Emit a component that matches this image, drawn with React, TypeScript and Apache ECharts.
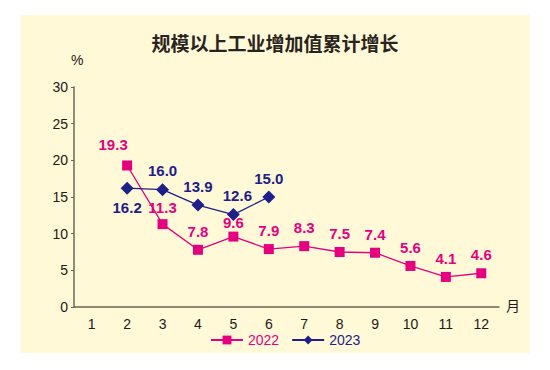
import React, { useEffect, useRef } from "react";
import * as echarts from "echarts";

const months = ["1", "2", "3", "4", "5", "6", "7", "8", "9", "10", "11", "12"];
const values2022: (number | null)[] = [null, 19.3, 11.3, 7.8, 9.6, 7.9, 8.3, 7.5, 7.4, 5.6, 4.1, 4.6];
const values2023: (number | null)[] = [null, 16.2, 16.0, 13.9, 12.6, 15.0, null, null, null, null, null, null];
const title = "规模以上工业增加值累计增长";

const C22 = "#E4007F";
const C23 = "#1D2088";
const AX = "#6B6656";

export default function App() {
  const ref = useRef<HTMLDivElement>(null);
  useEffect(() => {
    if (!ref.current) return;
    const chart = echarts.init(ref.current, null, { renderer: "svg" });
    const labelFont = { fontFamily: "Liberation Sans, Arial, sans-serif", fontWeight: "bold" as const, fontSize: 15 };
    chart.setOption({
      animation: false,
      backgroundColor: "#ffffff",
      graphic: [
        { type: "rect", z: -10, shape: { x: 21, y: 15, width: 509, height: 338 }, style: { fill: "#FFF9D8" } },
        { type: "text", left: "center", top: 33, style: { text: title, font: "bold 19px 'Noto Sans CJK SC'", fill: "#2a2420" } },
        { type: "text", x: 71, y: 53, style: { text: "%", font: "14px 'Liberation Sans', Arial", fill: "#231815" } },
        { type: "text", x: 506, y: 298, style: { text: "月", font: "14px 'Noto Sans CJK SC'", fill: "#231815" } },
      ],
      grid: { left: 74, right: 51, top: 87, bottom: 63 },
      legend: {
        top: 328,
        left: 205,
        itemWidth: 32,
        itemHeight: 11,
        itemGap: 12,
        textStyle: { fontFamily: "Liberation Sans, Arial", fontSize: 14 },
        data: [
          { name: "2022", textStyle: { color: C22 } },
          { name: "2023", textStyle: { color: C23 } },
        ],
      },
      xAxis: {
        type: "category",
        data: months,
        boundaryGap: true,
        axisLine: { lineStyle: { color: AX, width: 1.5 } },
        axisTick: { inside: true, length: 3, lineStyle: { color: AX } },
        axisLabel: { color: "#231815", fontFamily: "Liberation Sans, Arial", fontSize: 14, margin: 10 },
      },
      yAxis: {
        type: "value",
        min: 0,
        max: 30,
        interval: 5,
        splitLine: { show: false },
        axisLine: { show: true, lineStyle: { color: AX, width: 1.5 } },
        axisTick: { show: true, length: 3, lineStyle: { color: AX } },
        axisLabel: { color: "#231815", fontFamily: "Liberation Sans, Arial", fontSize: 14, margin: 6 },
      },
      series: [
        {
          name: "2022",
          type: "line",
          data: values2022,
          symbol: "rect",
          symbolSize: 10,
          itemStyle: { color: C22 },
          lineStyle: { color: C22, width: 1.3 },
          label: {
            show: true,
            position: "top",
            distance: 6,
            color: C22,
            ...labelFont,
            formatter: (p: any) => Number(p.value).toFixed(1),
          },
          labelLayout: (p: any) =>
            p.dataIndex === 1 ? { dx: -14, dy: -2 } : p.dataIndex === 4 ? { dy: 4 } : p.dataIndex === 2 ? { dy: 2 } : {},
        },
        {
          name: "2023",
          type: "line",
          data: values2023,
          symbol: "diamond",
          symbolSize: 13,
          itemStyle: { color: C23 },
          lineStyle: { color: C23, width: 1.3 },
          label: {
            show: true,
            position: "top",
            distance: 5,
            color: C23,
            ...labelFont,
            formatter: (p: any) => Number(p.value).toFixed(1),
          },
          labelLayout: (p: any) => (p.dataIndex === 1 ? { dy: 38 } : p.dataIndex === 4 ? { dx: 4 } : {}),
        },
      ],
    });
    return () => chart.dispose();
  }, []);
  return <div ref={ref} style={{ position: "absolute", left: 0, top: 0, width: 550, height: 370 }} />;
}
